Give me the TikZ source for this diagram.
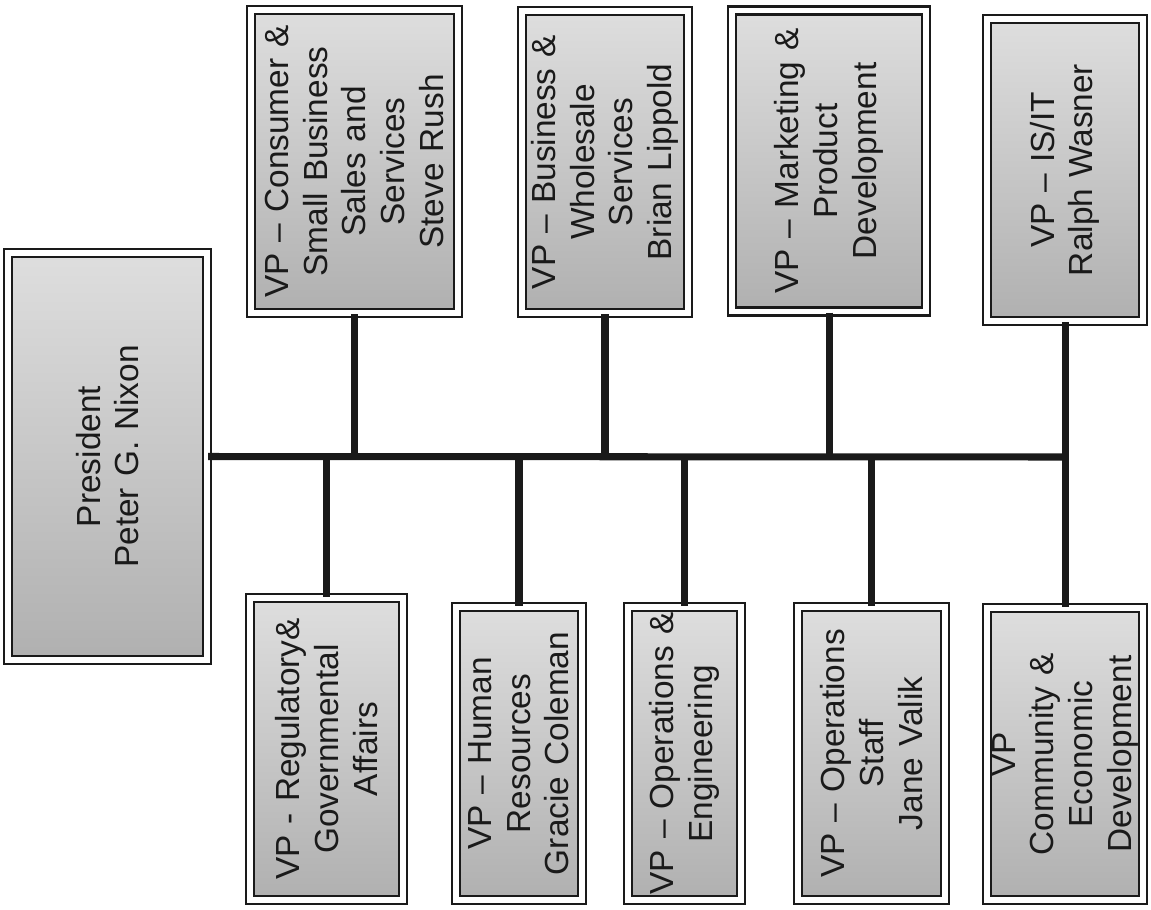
\documentclass[tikz,border=0pt]{standalone}
\usepackage{fontspec}
\setmainfont{Liberation Sans}
\setlength{\parindent}{0pt}
\usetikzlibrary{calc}
\definecolor{ocink}{HTML}{1A1A1A}
\definecolor{ocpage}{HTML}{FFFFFF}
\definecolor{oclight}{HTML}{DEDEDE}
\definecolor{ocdark}{HTML}{B0B0B0}
\tikzset{
  ocbox/.style={
    rotate=90,
    draw=ocink,
    line width=1.4pt,
    double=ocpage,
    double distance=3pt,
    top color=oclight,
    bottom color=ocdark,
    align=center,
    text width=5.8cm,
    inner xsep=0pt,
    inner ysep=2pt,
    font=\fontsize{19}{22}\selectfont,
    text=ocink
  },
  ocline/.style={
    line width=4pt,
    color=ocink
  }
}

\begin{document}
\begin{tikzpicture}[x=0.02cm,y=-0.02cm]
  \fill[ocpage] (0,0) rectangle (1151,909);
  \useasboundingbox (0,0) rectangle (1151,909);

  \node[ocbox, minimum width=8.14cm, minimum height=3.98cm] (pres) at (107.5,456.5)
    {President\\Peter G. Nixon};

  % upper row
  \node[ocbox, minimum width=6.06cm, minimum height=4.14cm] (cons) at (354.5,161.5)
    {VP -- Consumer \&\\Small Business\\Sales and\\Services\\Steve Rush};
  \node[ocbox, minimum width=6.04cm, minimum height=3.32cm] (busi) at (605,162)
    {VP -- Business \&\\Wholesale\\Services\\Brian Lippold};
  \node[ocbox, minimum width=6.02cm, minimum height=3.88cm] (mkt) at (829,161)
    {VP -- Marketing \&\\Product\\Development};
  \node[ocbox, minimum width=6.04cm, minimum height=3.12cm] (isit) at (1065,170)
    {VP -- IS/IT\\Ralph Wasner};

  % lower row
  \node[ocbox, minimum width=6.04cm, minimum height=3.06cm] (reg) at (326.5,749)
    {VP - Regulatory\&\\Governmental\\Affairs};
  \node[ocbox, minimum width=5.86cm, minimum height=2.52cm] (hr) at (519,753.5)
    {VP -- Human\\Resources\\Gracie Coleman};
  \node[ocbox, minimum width=5.86cm, minimum height=2.26cm] (opseng) at (684.5,753.5)
    {VP -- Operations \&\\Engineering};
  \node[ocbox, minimum width=5.86cm, minimum height=2.94cm] (opsstaff) at (871.5,753.5)
    {VP -- Operations\\Staff\\Jane Valik};
  \node[ocbox, minimum width=5.84cm, minimum height=3.12cm] (comm) at (1065,754)
    {VP\\Community \&\\Economic\\Development};

  \coordinate (busend) at (1065,457);

  \draw[ocline] (pres.south) -- (busend);
  \draw[ocline] (isit.west) -- (comm.east);
  \foreach \up in {cons,busi,mkt}
    \draw[ocline] (\up.west) -- (\up.west |- busend);
  \foreach \dn in {reg,hr,opseng,opsstaff}
    \draw[ocline] (\dn.east) -- (\dn.east |- busend);
\end{tikzpicture}
\end{document}
